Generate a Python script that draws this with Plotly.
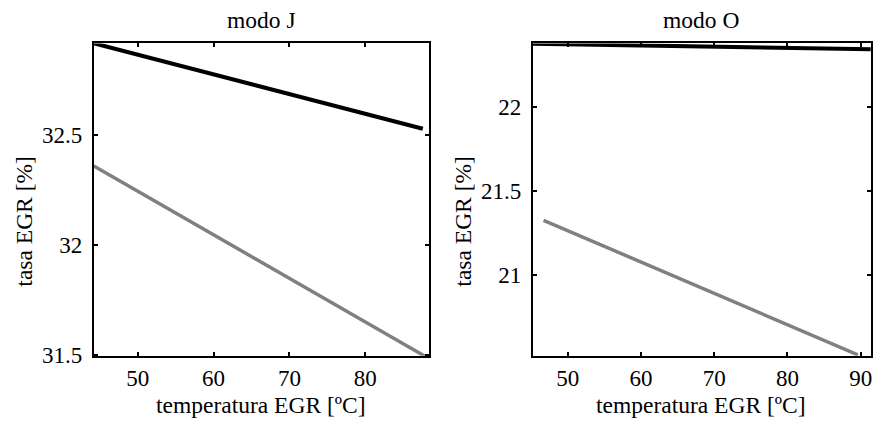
import plotly.graph_objects as go

# Data
j_temp_black = [44.2, 87.6]
j_egr_black = [32.92, 32.53]
j_temp_gray = [44.2, 88.0]
j_egr_gray = [32.36, 31.49]

o_temp_black = [45.2, 91.4]
o_egr_black = [22.376, 22.343]
o_temp_gray = [46.7, 89.6]
o_egr_gray = [21.325, 20.525]

j_xticks = [50, 60, 70, 80]
j_yticks = [31.5, 32, 32.5]
o_xticks = [50, 60, 70, 80, 90]
o_yticks = [21, 21.5, 22]

FONT = "Liberation Serif, Times New Roman, Times, serif"
BLACK = "#000000"
GRAY = "#808080"
FS_TICK = 23
FS_LAB = 23.5

fig = go.Figure()
fig.add_trace(go.Scatter(x=j_temp_gray, y=j_egr_gray, mode="lines",
                         line=dict(color=GRAY, width=3.5), xaxis="x", yaxis="y"))
fig.add_trace(go.Scatter(x=j_temp_black, y=j_egr_black, mode="lines",
                         line=dict(color=BLACK, width=4), xaxis="x", yaxis="y"))
fig.add_trace(go.Scatter(x=o_temp_gray, y=o_egr_gray, mode="lines",
                         line=dict(color=GRAY, width=3.5), xaxis="x2", yaxis="y2"))
fig.add_trace(go.Scatter(x=o_temp_black, y=o_egr_black, mode="lines",
                         line=dict(color=BLACK, width=4), xaxis="x2", yaxis="y2"))

W, H = 875, 432
ydom = [1 - 366 / H, 1 - 44.7 / H]

axis_common = dict(showline=True, linecolor=BLACK, linewidth=2, mirror="ticks",
                   ticks="inside", ticklen=4, tickwidth=1.5, tickcolor=BLACK,
                   showgrid=False, zeroline=False,
                   tickfont=dict(family=FONT, size=FS_TICK, color=BLACK))

fig.update_layout(
    width=W, height=H,
    margin=dict(l=0, r=0, t=0, b=0),
    paper_bgcolor="white", plot_bgcolor="white",
    showlegend=False,
    font=dict(family=FONT, size=FS_TICK, color=BLACK),
    xaxis=dict(domain=[94 / W, 430 / W], range=[44.2, 88.42], tickvals=j_xticks,
               anchor="y", ticklabelstandoff=1, **axis_common),
    yaxis=dict(domain=ydom, range=[31.494, 32.919], tickvals=j_yticks,
               ticktext=[str(v) for v in j_yticks], anchor="x",
               ticklabelstandoff=5, **axis_common),
    xaxis2=dict(domain=[534 / W, 872.7 / W], range=[45.23, 91.36], tickvals=o_xticks,
                anchor="y2", ticklabelstandoff=1, **axis_common),
    yaxis2=dict(domain=ydom, range=[20.519, 22.377], tickvals=o_yticks,
                ticktext=[str(v) for v in o_yticks], anchor="x2",
                ticklabelstandoff=5, **axis_common),
)

ann_font = dict(family=FONT, size=FS_LAB, color=BLACK)
annotations = [
    dict(text="modo J", x=262 / W, y=1 - 21 / H, xref="paper", yref="paper",
         showarrow=False, font=ann_font, xanchor="center", yanchor="middle"),
    dict(text="modo O", x=703 / W, y=1 - 21 / H, xref="paper", yref="paper",
         showarrow=False, font=ann_font, xanchor="center", yanchor="middle"),
    dict(text="temperatura EGR [ºC]", x=262 / W, y=1 - 417 / H, xref="paper", yref="paper",
         showarrow=False, font=ann_font, xanchor="center", yanchor="middle"),
    dict(text="temperatura EGR [ºC]", x=703 / W, y=1 - 417 / H, xref="paper", yref="paper",
         showarrow=False, font=ann_font, xanchor="center", yanchor="middle"),
    dict(text="tasa EGR [%]", x=24 / W, y=1 - 227 / H, xref="paper", yref="paper",
         showarrow=False, font=ann_font, textangle=-90, xanchor="center", yanchor="middle"),
    dict(text="tasa EGR [%]", x=464 / W, y=1 - 227 / H, xref="paper", yref="paper",
         showarrow=False, font=ann_font, textangle=-90, xanchor="center", yanchor="middle"),
]
fig.update_layout(annotations=annotations)

fig.write_html("out.html")
